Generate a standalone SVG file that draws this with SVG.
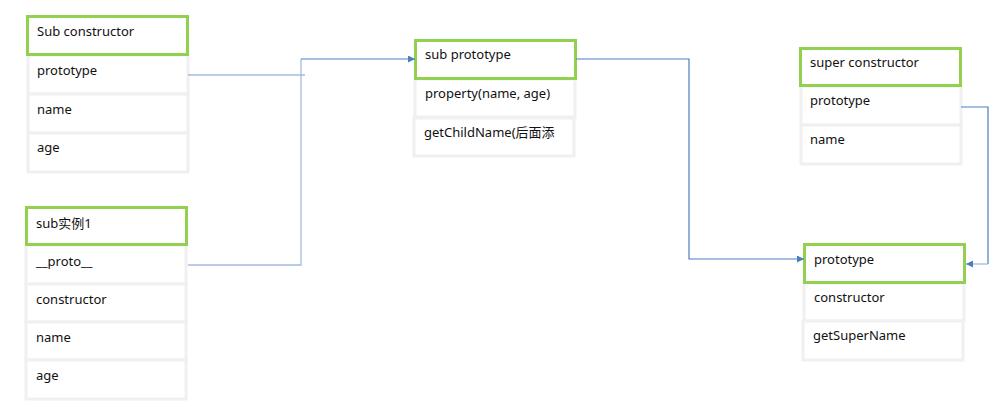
<svg xmlns="http://www.w3.org/2000/svg" width="1006" height="412" viewBox="0 0 1006 412">
<style>
.hd{fill:#fff;stroke:#92D050;stroke-width:3}
.rw{fill:#fff;stroke:#F0F0F0;stroke-width:3}
text{font-family:"Noto Sans","Noto Sans CJK SC",sans-serif;font-size:13px;fill:#111}
.lt{fill:none;stroke:#A3BCDF;stroke-width:1.3}
.dk{fill:none;stroke:#4A7EC0;stroke-width:1.2}
</style>
<defs>
<marker id="ar" viewBox="0 0 10 10" refX="10" refY="5" markerWidth="7" markerHeight="7" orient="auto" markerUnits="userSpaceOnUse"><path d="M0,0L10,5L0,10z" fill="#4A7EC0"/></marker>
</defs>
<rect width="1006" height="412" fill="#fff"/>
<g id="sub-constructor">
<rect class="rw" x="28" y="55" width="160" height="39"/>
<rect class="rw" x="28" y="94" width="160" height="39"/>
<rect class="rw" x="28" y="133" width="160" height="39"/>
<rect class="hd" x="27.5" y="16.5" width="160" height="38"/>
<text x="37" y="36">Sub constructor</text>
<text x="37" y="75">prototype</text>
<text x="37" y="114">name</text>
<text x="37" y="152">age</text>
</g>
<g id="sub-instance">
<rect class="rw" x="26" y="245" width="160" height="39"/>
<rect class="rw" x="26" y="284" width="160" height="38"/>
<rect class="rw" x="26" y="322" width="160" height="38"/>
<rect class="rw" x="26" y="360" width="160" height="39"/>
<rect class="hd" x="26.5" y="207.5" width="160" height="37"/>
<text x="36" y="228">sub实例1</text>
<text x="36" y="266">__proto__</text>
<text x="36" y="304">constructor</text>
<text x="36" y="342">name</text>
<text x="36" y="380">age</text>
</g>
<g id="sub-prototype">
<rect class="rw" x="415" y="79" width="160" height="38"/>
<rect class="rw" x="414" y="118" width="160" height="38"/>
<rect class="hd" x="415.5" y="40.5" width="160" height="38"/>
<text x="425" y="59">sub prototype</text>
<text x="425" y="98">property(name, age)</text>
<text x="424" y="137">getChildName(后面添</text>
</g>
<g id="super-constructor">
<rect class="rw" x="801" y="86" width="160" height="39"/>
<rect class="rw" x="801" y="125" width="160" height="39"/>
<rect class="hd" x="800.5" y="48.5" width="160" height="37"/>
<text x="810" y="67">super constructor</text>
<text x="810" y="105">prototype</text>
<text x="810" y="144">name</text>
</g>
<g id="super-prototype">
<rect class="rw" x="804" y="283" width="160" height="38"/>
<rect class="rw" x="803" y="321" width="160" height="39"/>
<rect class="hd" x="804.5" y="244.5" width="160" height="38"/>
<text x="814" y="264">prototype</text>
<text x="814" y="302">constructor</text>
<text x="813" y="340">getSuperName</text>
</g>
<g id="connectors">
<path class="lt" d="M188,75H305"/>
<path class="lt" d="M188,265H301V59"/>
<path class="dk" d="M301,59H415" marker-end="url(#ar)"/>
<path class="dk" d="M576,59H689V259H804" marker-end="url(#ar)"/>
<path class="dk" d="M961,107H988V264"/>
<path class="lt" d="M988,264H966" marker-end="url(#ar)"/>
</g>
</svg>
